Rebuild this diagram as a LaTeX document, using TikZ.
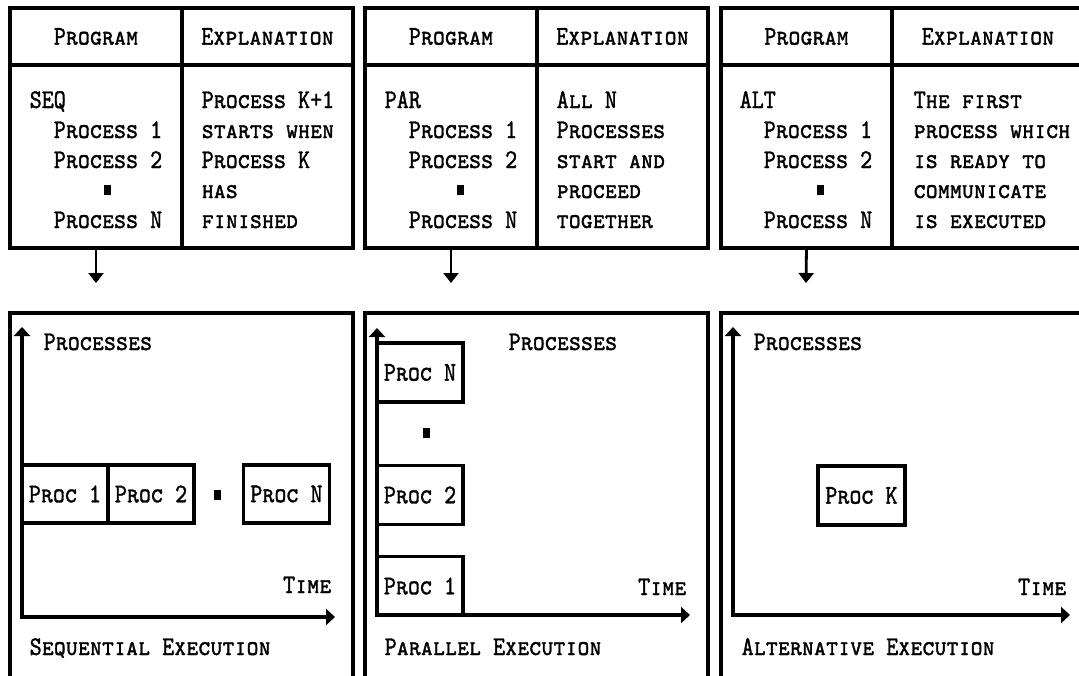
\documentclass[tikz,border=0pt]{standalone}
\usepackage{fontspec}
\usepackage{tikz}
\usetikzlibrary{positioning,arrows.meta}
\newfontfamily\pixcaps{lmmonocaps10-regular}[Extension=.otf,FakeStretch=0.85,FakeBold=1.2]

\begin{document}
\begin{tikzpicture}[x=1pt,y=-1pt,line width=3.4pt,
  >={Triangle[length=9pt,width=16pt]},
  tx/.style={font=\fontsize{27}{30}\selectfont\pixcaps,inner sep=0pt},
  ln/.style={tx,anchor=base west,align=left},
  cellbox/.style={rectangle,draw,tx,outer sep=0pt},
  pbox/.style={rectangle,draw,tx,outer sep=0pt,minimum width=86,minimum height=59},
  sqdot/.style={rectangle,fill,inner sep=0pt,minimum width=7,minimum height=10},
  ar/.style={->,line width=2.8pt,>={Triangle[length=10pt,width=15pt]}}]
  \clip (0,0) rectangle (1079,675);
  % sequential
  \node[cellbox,minimum width=172,minimum height=57] (ph1) at (96,36.5) {Program};
  \node[cellbox,minimum width=171,minimum height=57] (eh1) at (267.5,36.5) {Explanation};
  \node[cellbox,minimum width=172,minimum height=183] (pb1) at (96,156.5) {};
  \node[cellbox,minimum width=171,minimum height=183] (eb1) at (267.5,156.5) {};
  \node[ln] (pt1) at (28,228) {SEQ\\\ \ Process 1\\\ \ Process 2\\[30pt]\ \ Process N};
  \node[sqdot] (pd1) at (107,190) {};
  \node[ln] (et1) at (200,228) {Process K+1\\starts when\\Process K\\has\\finished};
  \coordinate (pa1) at (96,283);
  \draw[ar] (pb1.south) -- (pa1);
  \node[cellbox,minimum width=343,minimum height=400] (bp1) at (181.5,513) {};
  \coordinate (y1) at (22,327); \coordinate (x1) at (335,617);
  \draw[<->] (y1) |- (x1);
  \node[ln] (pl1) at (42,350) {Processes};
  \node[ln,anchor=base east] (tl1) at (333,593) {Time};
  \node[ln] (sl1) at (28,655) {Sequential Execution};
  \node[pbox,minimum height=58] (s1) at (65,494) {Proc 1};
  \node[pbox,minimum height=58,right=0pt of s1] (s2) {Proc 2};
  \node[sqdot] (sd) at (217,495) {};
  \node[pbox,minimum height=58] (sn) at (286.5,494) {Proc N};
  % parallel
  \node[cellbox,minimum width=172,minimum height=57] (ph2) at (451,36.5) {Program};
  \node[cellbox,minimum width=171,minimum height=57] (eh2) at (622.5,36.5) {Explanation};
  \node[cellbox,minimum width=172,minimum height=183] (pb2) at (451,156.5) {};
  \node[cellbox,minimum width=171,minimum height=183] (eb2) at (622.5,156.5) {};
  \node[ln] (pt2) at (383,228) {PAR\\\ \ Process 1\\\ \ Process 2\\[30pt]\ \ Process N};
  \node[sqdot] (pd2) at (460,190) {};
  \node[ln] (et2) at (555,228) {All N\\Processes\\start and\\proceed\\together};
  \coordinate (pa2) at (451,283);
  \draw[ar] (pb2.south) -- (pa2);
  \node[cellbox,minimum width=343,minimum height=400] (bp2) at (536.5,513) {};
  \coordinate (y2) at (377,328); \coordinate (x2) at (690,615);
  \draw[<->] (y2) |- (x2);
  \node[ln] (pl2) at (507,350) {Processes};
  \node[ln,anchor=base east] (tl2) at (688,595) {Time};
  \node[ln] (sl2) at (383,655) {Parallel Execution};
  \node[pbox] (p1) at (420,586) {Proc 1};
  \node[pbox] (p2) at (420,495) {Proc 2};
  \node[sqdot] (pd) at (426,433) {};
  \node[pbox] (pn) at (420,372.5) {Proc N};
  % alternative
  \node[cellbox,minimum width=171,minimum height=57] (ph3) at (806.5,36.5) {Program};
  \node[cellbox,minimum width=192,minimum height=57] (eh3) at (988,36.5) {Explanation};
  \node[cellbox,minimum width=171,minimum height=183] (pb3) at (806.5,156.5) {};
  \node[cellbox,minimum width=192,minimum height=183] (eb3) at (988,156.5) {};
  \node[ln] (pt3) at (738,228) {ALT\\\ \ Process 1\\\ \ Process 2\\[30pt]\ \ Process N};
  \node[sqdot] (pd3) at (820,190) {};
  \node[ln] (et3) at (912,228) {The first\\process which\\is ready to\\communicate\\is executed};
  \coordinate (pa3) at (806,283);
  \draw[ar] (pb3.south) -- (pa3);
  \node[cellbox,minimum width=363,minimum height=400] (bp3) at (902.5,513) {};
  \coordinate (y3) at (733,327); \coordinate (x3) at (1070,615);
  \draw[<->] (y3) |- (x3);
  \node[ln] (pl3) at (752,350) {Processes};
  \node[ln,anchor=base east] (tl3) at (1068,595) {Time};
  \node[ln] (sl3) at (740,655) {Alternative Execution};
  \node[pbox,minimum width=87] (ak) at (861.5,495.5) {Proc K};
\end{tikzpicture}
\end{document}
